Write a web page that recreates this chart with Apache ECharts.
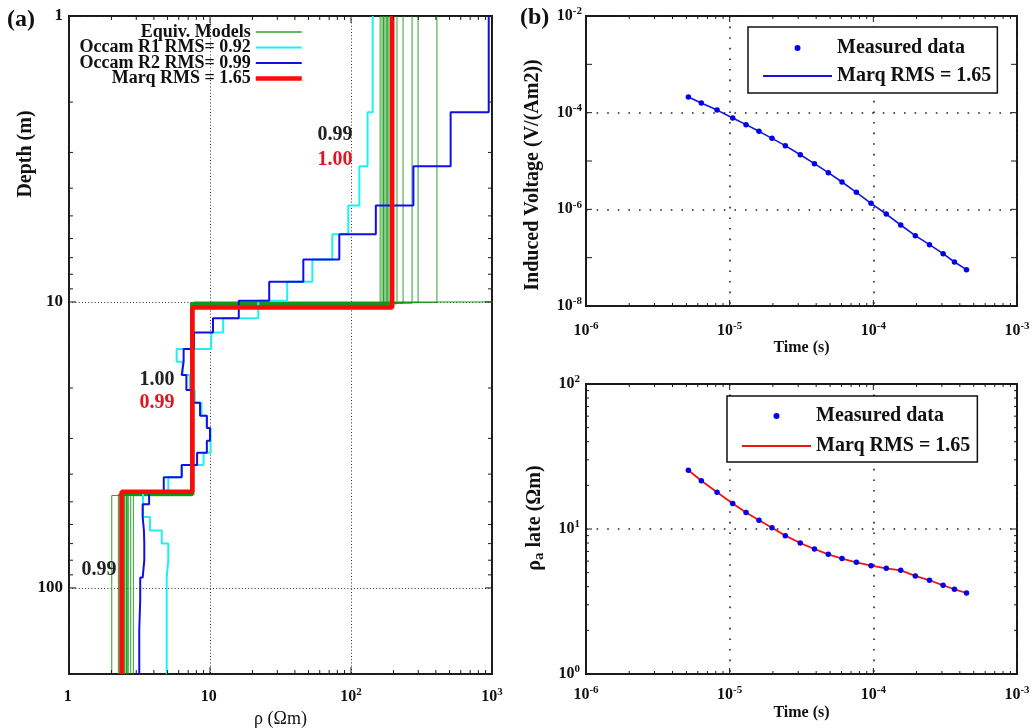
<!DOCTYPE html>
<html>
<head>
<meta charset="utf-8">
<script src="https://cdn.jsdelivr.net/npm/echarts@6/dist/echarts.min.js"></script>
<style>
  html, body { margin: 0; padding: 0; background: #fff; }
  #chart { width: 1035px; height: 728px; }
</style>
</head>
<body>
<div id="chart"></div>
<script>
// ---------- (a) layered resistivity models ----------
const depthTop = 1;
const depthBottom = 200;

// Occam smooth models share one layer mesh (depths of layer bottoms, m)
const occamTops = [2.17, 3.35, 4.6, 5.8, 7.1, 8.5, 9.9, 11.4, 12.8, 14.6, 16.2, 18.0, 20.3, 22.5, 25.0,
                   27.6, 30.6, 33.7, 37.2, 41.0, 45.8, 51.0, 56.5, 63.0, 70.0, 80.0, 92.0, 110, 140];
const occamR1Rho = [142.5, 131, 114.6, 95.7, 73.7, 53.2, 35.3, 22, 12.4, 10.2, 5.8, 6.4, 7.2, 7.8, 8.7,
                    9.5, 10.1, 10.1, 9.0, 6.3, 5.06, 3.35, 3.35, 3.75, 4.55, 5.06, 4.93, 4.93, 4.93, 4.93];
const occamR2Rho = [948, 509, 277, 150, 82.6, 45.9, 26.3, 16, 10.5, 7.7, 6.5, 6.3, 6.8, 7.6, 8.5,
                    9.5, 10.0, 9.5, 8.1, 6.3, 4.7, 3.7, 3.33, 3.4, 3.42, 3.42, 3.33, 3.2, 3.15, 3.15];

// Marquardt three-layer model
const marqTops = [10.45, 46.1];
const marqRho = [196, 7.5, 2.36];

// Equivalent three-layer models
const equivRho1 = [161, 166, 170, 174, 178, 182, 186, 190, 200, 212, 234, 271, 299, 407, 1500];
const equivRho2 = [7.6, 7.5, 7.5, 7.4, 7.6, 7.5, 7.3, 7.5, 7.4, 7.6, 7.3, 7.4, 7.3, 7.35, 7.7];
const equivRho3 = [2.45, 2.38, 2.55, 2.62, 2.74, 2.86, 2.24, 2.01, 2.45, 2.38, 2.55, 2.62, 2.34, 2.3, 2.48];
const equivTop1 = [10.3, 10.25, 10.2, 10.3, 10.2, 10.15, 10.3, 10.25, 10.2, 10.15, 10.1, 10.1, 10.05, 10.05, 10.0];
const equivTop2 = [47.3, 47.1, 47.5, 47.3, 47.2, 47.6, 47.0, 47.5, 47.3, 47.2, 47.4, 47.3, 47.1, 47.5, 47.2];

// correlation values written on the depth panel
const noteText  = ['0.99', '1.00', '1.00', '0.99', '0.99'];
const noteRho   = [77, 77, 4.21, 4.21, 1.63];
const noteDepth = [2.61, 3.19, 18.7, 22.5, 86.5];
const noteRed   = [false, true, false, true, false];

// ---------- (b) transient response ----------
const times = [5.16e-6, 6.35e-6, 8.17e-6, 1.05e-5, 1.30e-5, 1.60e-5, 1.97e-5, 2.44e-5, 3.10e-5, 3.89e-5,
               4.86e-5, 6.05e-5, 7.62e-5, 9.64e-5, 1.23e-4, 1.55e-4, 1.96e-4, 2.46e-4, 3.06e-4, 3.67e-4, 4.45e-4];
const measuredVoltage = [2.11e-4, 1.58e-4, 1.13e-4, 7.76e-5, 5.65e-5, 4.11e-5, 2.94e-5, 2.08e-5, 1.35e-5, 8.8e-6,
                         5.74e-6, 3.68e-6, 2.25e-6, 1.33e-6, 8.0e-7, 4.74e-7, 2.85e-7, 1.86e-7, 1.21e-7, 8.13e-8, 5.65e-8];
const marqVoltage = [2.11e-4, 1.58e-4, 1.13e-4, 7.76e-5, 5.65e-5, 4.11e-5, 2.94e-5, 2.08e-5, 1.35e-5, 8.8e-6,
                     5.74e-6, 3.68e-6, 2.25e-6, 1.33e-6, 8.0e-7, 4.74e-7, 2.85e-7, 1.86e-7, 1.21e-7, 8.13e-8, 5.65e-8];
const measuredRhoa = [25.4, 21.5, 17.9, 15.0, 13.0, 11.5, 10.2, 9.0, 8.0, 7.28, 6.69, 6.25, 5.89, 5.59, 5.36,
                      5.19, 4.75, 4.43, 4.09, 3.84, 3.62];
const marqRhoa = [25.4, 21.5, 17.9, 15.0, 13.0, 11.5, 10.2, 9.0, 8.0, 7.28, 6.69, 6.25, 5.89, 5.59, 5.36,
                  5.19, 4.75, 4.43, 4.09, 3.84, 3.62];

const legendNames = {
  measuredVoltage: 'Measured data', marqVoltage: 'Marq RMS = 1.65',
  measuredRhoa: 'Measured data', marqRhoa: 'Marq RMS = 1.65'
};

// ---------- helpers ----------
const serif = 'Liberation Serif';
const ink = '#111';
const green = 'rgba(22,150,22,0.9)';
const cyan = '#1ff0f4';
const blue = '#1010e6';
const red = '#ff0a0a';
const dotBlue = '#0000ee';

// staircase (rho, depth) path of a layered model
function layeredPath(tops, rhos) {
  const pts = [[rhos[0], depthTop]];
  tops.forEach((d, i) => { pts.push([rhos[i], d]); pts.push([rhos[i + 1], d]); });
  pts.push([rhos[rhos.length - 1], depthBottom]);
  return pts;
}
function pairs(xs, ys) { return xs.map((x, i) => [x, ys[i]]); }

// log tick values between lo and hi (minor = 2..9 x decade)
function logTicks(lo, hi, withMinor) {
  const out = [];
  const e0 = Math.floor(Math.log10(lo) + 1e-9), e1 = Math.ceil(Math.log10(hi) - 1e-9);
  for (let e = e0; e <= e1; e++) {
    for (let m = 1; m <= 9; m++) {
      if (!withMinor && m > 1) break;
      const v = m * Math.pow(10, e);
      if (v >= lo * 0.9999 && v <= hi * 1.0001) out.push({ v, major: m === 1 });
    }
  }
  return out;
}

// inward ticks on all four sides of a plot box
function boxTicks(xTicks, yTicks, xRef, yRef, majorLen, minorLen) {
  return function (params, api) {
    const cs = params.coordSys;
    const l = cs.x, r = cs.x + cs.width, t = cs.y, b = cs.y + cs.height;
    const style = { stroke: '#1a1a1a', lineWidth: 1 };
    const kids = [];
    xTicks.forEach(tk => {
      const px = api.coord([tk.v, yRef])[0];
      const len = tk.major ? majorLen : minorLen;
      kids.push({ type: 'line', shape: { x1: px, y1: b, x2: px, y2: b - len }, style });
      kids.push({ type: 'line', shape: { x1: px, y1: t, x2: px, y2: t + len }, style });
    });
    yTicks.forEach(tk => {
      const py = api.coord([xRef, tk.v])[1];
      const len = tk.major ? majorLen : minorLen;
      kids.push({ type: 'line', shape: { x1: l, y1: py, x2: l + len, y2: py }, style });
      kids.push({ type: 'line', shape: { x1: r, y1: py, x2: r - len, y2: py }, style });
    });
    return { type: 'group', children: kids };
  };
}

const powRich = {
  b: { fontFamily: serif, fontWeight: 'bold', fontSize: 16, color: ink },
  s: { fontFamily: serif, fontWeight: 'bold', fontSize: 11, color: ink, verticalAlign: 'top', padding: [0, 0, 9, 0] }
};
function powLabel(v) {
  const e = Math.round(Math.log10(v));
  return '{b|10}{s|' + e + '}';
}
function rhoLabel(v) {
  const e = Math.round(Math.log10(v));
  if (e === 0) return '{b|1}{s| }';
  if (e === 1) return '{b|10}{s| }';
  return '{b|10}{s|' + e + '}';
}

const dottedFine = { show: true, lineStyle: { color: '#333', width: 1, type: [1, 2.2] } };
const dottedWide = { show: true, lineStyle: { color: '#222', width: 1.6, type: [1.6, 9] } };

// legend entries for line series: line only, no marker
const lineOnly = { opacity: 0 };

// ---------- series ----------
const series = [];

equivRho1.forEach((r1, i) => {
  series.push({
    name: 'Equiv. Models', type: 'line', xAxisIndex: 0, yAxisIndex: 0, symbol: 'none', z: 2,
    data: layeredPath([equivTop1[i], equivTop2[i]], [r1, equivRho2[i], equivRho3[i]]),
    lineStyle: { color: green, width: 1 }
  });
});
series.push({
  name: 'Occam R1 RMS= 0.92', type: 'line', xAxisIndex: 0, yAxisIndex: 0, symbol: 'none', z: 3,
  data: layeredPath(occamTops, occamR1Rho), lineStyle: { color: cyan, width: 2 }
});
series.push({
  name: 'Occam R2 RMS= 0.99', type: 'line', xAxisIndex: 0, yAxisIndex: 0, symbol: 'none', z: 4,
  data: layeredPath(occamTops, occamR2Rho), lineStyle: { color: blue, width: 2 }
});
series.push({
  name: 'Marq RMS = 1.65', type: 'line', xAxisIndex: 0, yAxisIndex: 0, symbol: 'none', z: 5,
  data: layeredPath(marqTops, marqRho), lineStyle: { color: red, width: 4.5 }
});
series.push({
  type: 'scatter', xAxisIndex: 0, yAxisIndex: 0, symbolSize: 0, z: 6, silent: true,
  itemStyle: { opacity: 1 },
  data: noteText.map((t, i) => ({
    name: t, value: [noteRho[i], noteDepth[i]],
    label: { color: noteRed[i] ? '#dc1820' : '#222' }
  })),
  label: {
    show: true, position: 'inside', formatter: '{b}', fontFamily: serif, fontWeight: 'bold', fontSize: 20,
    textBorderWidth: 0, textShadowBlur: 0, opacity: 1
  }
});
series.push({
  type: 'custom', xAxisIndex: 0, yAxisIndex: 0, z: 8, silent: true, data: [[1, 1]],
  renderItem: boxTicks(logTicks(1, 1000, true), logTicks(1, 200, true), 1, 1, 7, 4)
});

series.push({
  name: 'marqVoltage', type: 'line', xAxisIndex: 1, yAxisIndex: 1, symbol: 'none', z: 3,
  data: pairs(times, marqVoltage), lineStyle: { color: '#1414e0', width: 1.6 }
});
series.push({
  name: 'measuredVoltage', type: 'scatter', xAxisIndex: 1, yAxisIndex: 1, symbolSize: 5.5, z: 4,
  data: pairs(times, measuredVoltage), itemStyle: { color: dotBlue, opacity: 1 }
});
series.push({
  type: 'custom', xAxisIndex: 1, yAxisIndex: 1, z: 8, silent: true, data: [[1e-6, 1e-8]],
  renderItem: boxTicks(logTicks(1e-6, 1e-3, true), logTicks(1e-8, 1e-2, false), 1e-6, 1e-8, 6, 3)
});

series.push({
  name: 'marqRhoa', type: 'line', xAxisIndex: 2, yAxisIndex: 2, symbol: 'none', z: 3,
  data: pairs(times, marqRhoa), lineStyle: { color: '#ee1515', width: 1.8 }
});
series.push({
  name: 'measuredRhoa', type: 'scatter', xAxisIndex: 2, yAxisIndex: 2, symbolSize: 5.5, z: 4,
  data: pairs(times, measuredRhoa), itemStyle: { color: dotBlue, opacity: 1 }
});
series.push({
  type: 'custom', xAxisIndex: 2, yAxisIndex: 2, z: 8, silent: true, data: [[1e-6, 1]],
  renderItem: boxTicks(logTicks(1e-6, 1e-3, true), logTicks(1, 100, true), 1e-6, 1, 6, 3)
});

// ---------- axes ----------
const hidden = { axisLine: { show: false }, axisTick: { show: false }, minorTick: { show: false } };
const box = { show: true, borderColor: '#1a1a1a', borderWidth: 2, backgroundColor: 'transparent', outerBoundsMode: 'none', containLabel: false };

const option = {
  animation: false,
  backgroundColor: '#fff',
  grid: [
    Object.assign({ left: 69, top: 16, width: 423, height: 658 }, box),
    Object.assign({ left: 586, top: 16, width: 431, height: 290 }, box),
    Object.assign({ left: 586, top: 384, width: 431, height: 290 }, box)
  ],
  xAxis: [
    Object.assign({
      gridIndex: 0, type: 'log', logBase: 10, min: 1, max: 1000,
      splitLine: dottedFine,
      axisLabel: { margin: 13, formatter: rhoLabel, rich: powRich },
      name: 'ρ (Ωm)', nameLocation: 'middle', nameGap: 34,
      nameTextStyle: { fontFamily: serif, fontSize: 18, color: ink }
    }, hidden),
    Object.assign({
      gridIndex: 1, type: 'log', logBase: 10, min: 1e-6, max: 1e-3,
      splitLine: dottedWide,
      axisLabel: { margin: 15, formatter: powLabel, rich: powRich },
      name: 'Time (s)', nameLocation: 'middle', nameGap: 27,
      nameTextStyle: { fontFamily: serif, fontWeight: 'bold', fontSize: 16, color: ink }
    }, hidden),
    Object.assign({
      gridIndex: 2, type: 'log', logBase: 10, min: 1e-6, max: 1e-3,
      splitLine: dottedWide,
      axisLabel: { margin: 11, formatter: powLabel, rich: powRich },
      name: 'Time (s)', nameLocation: 'middle', nameGap: 31,
      nameTextStyle: { fontFamily: serif, fontWeight: 'bold', fontSize: 16, color: ink }
    }, hidden)
  ],
  yAxis: [
    Object.assign({
      gridIndex: 0, type: 'log', logBase: 10, min: depthTop, max: depthBottom, inverse: true,
      splitLine: dottedFine,
      axisLabel: { margin: 6, showMaxLabel: false, fontFamily: serif, fontWeight: 'bold', fontSize: 17, color: ink }
    }, hidden),
    Object.assign({
      gridIndex: 1, type: 'log', logBase: 10, min: 1e-8, max: 1e-2, interval: 2,
      splitLine: dottedWide,
      axisLabel: { margin: 4, formatter: powLabel, rich: powRich }
    }, hidden),
    Object.assign({
      gridIndex: 2, type: 'log', logBase: 10, min: 1, max: 100,
      splitLine: dottedWide,
      axisLabel: { margin: 6, formatter: powLabel, rich: powRich }
    }, hidden)
  ],
  legend: [
    {
      data: [
        { name: 'Equiv. Models', lineStyle: { color: green, width: 1.5 }, itemStyle: lineOnly },
        { name: 'Occam R1 RMS= 0.92', lineStyle: { color: cyan, width: 2 }, itemStyle: lineOnly },
        { name: 'Occam R2 RMS= 0.99', lineStyle: { color: blue, width: 2 }, itemStyle: lineOnly },
        { name: 'Marq RMS = 1.65', lineStyle: { color: red, width: 4.5 }, itemStyle: lineOnly }
      ],
      orient: 'vertical', align: 'right', right: 731, top: 23, padding: 0, itemGap: -2.5,
      itemWidth: 46, itemHeight: 8, selectedMode: false,
      textStyle: { fontFamily: serif, fontWeight: 'bold', fontSize: 18, lineHeight: 15, color: ink }
    },
    {
      data: [{ name: 'measuredVoltage', icon: 'circle', itemStyle: { color: dotBlue, opacity: 1 } }, { name: 'marqVoltage', itemStyle: lineOnly }],
      formatter: n => legendNames[n],
      orient: 'vertical', left: 748, top: 27, padding: [11, 6, 7, 14], itemGap: 8,
      itemWidth: 69, itemHeight: 6, selectedMode: false,
      borderColor: '#111', borderWidth: 1.5, backgroundColor: '#fff', borderRadius: 0,
      textStyle: { fontFamily: serif, fontWeight: 'bold', fontSize: 20, color: ink }
    },
    {
      data: [{ name: 'measuredRhoa', icon: 'circle', itemStyle: { color: dotBlue, opacity: 1 } }, { name: 'marqRhoa', itemStyle: lineOnly }],
      formatter: n => legendNames[n],
      orient: 'vertical', left: 727, top: 396, padding: [10, 7, 6, 14], itemGap: 10,
      itemWidth: 69, itemHeight: 6, selectedMode: false,
      borderColor: '#111', borderWidth: 1.5, backgroundColor: '#fff', borderRadius: 0,
      textStyle: { fontFamily: serif, fontWeight: 'bold', fontSize: 20, color: ink }
    }
  ],
  graphic: [
    { type: 'text', left: 7, top: 8, style: { text: '(a)', fontFamily: serif, fontWeight: 'bold', fontSize: 24, fill: ink } },
    { type: 'text', left: 520, top: 6, style: { text: '(b)', fontFamily: serif, fontWeight: 'bold', fontSize: 24, fill: ink } },
    { type: 'text', x: 26, y: 154, rotation: Math.PI / 2,
      style: { text: 'Depth (m)', fontFamily: serif, fontWeight: 'bold', fontSize: 20, fill: ink, align: 'center', verticalAlign: 'middle' } },
    { type: 'text', x: 533, y: 175, rotation: Math.PI / 2,
      style: { text: 'Induced Voltage (V/(Am2))', fontFamily: serif, fontWeight: 'bold', fontSize: 20, fill: ink, align: 'center', verticalAlign: 'middle' } },
    { type: 'text', x: 535, y: 518, rotation: Math.PI / 2,
      style: {
        text: '{r|ρ}{a|a}{r| late (Ωm)}', align: 'center', verticalAlign: 'middle',
        rich: {
          r: { fontFamily: serif, fontWeight: 'bold', fontSize: 20, fill: ink, color: ink },
          a: { fontFamily: serif, fontWeight: 'bold', fontSize: 15, fill: ink, color: ink, verticalAlign: 'bottom', padding: [8, 0, 0, 0] }
        }
      } }
  ],
  series
};

const chart = echarts.init(document.getElementById('chart'), null, { renderer: 'canvas' });
chart.setOption(option);
</script>
</body>
</html>
